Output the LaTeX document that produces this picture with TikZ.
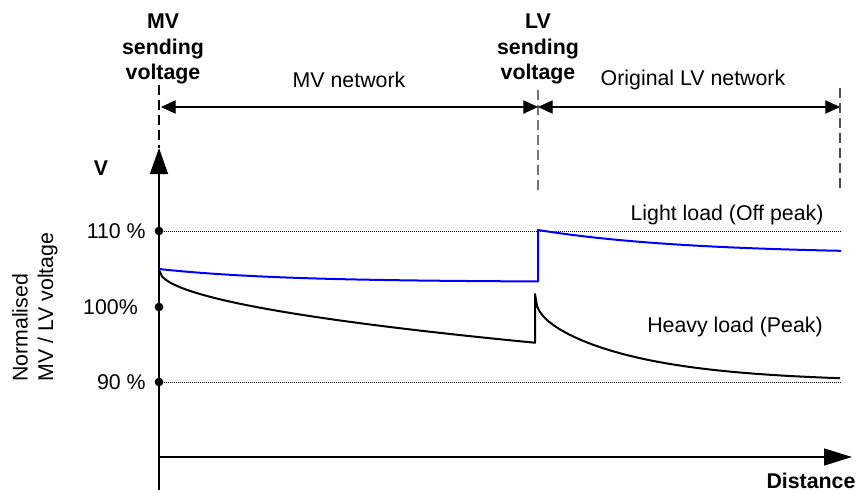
\documentclass[tikz,border=0pt]{standalone}
\usepackage{fontspec}
\setmainfont{Liberation Sans}
\usetikzlibrary{arrows.meta}
\begin{document}
\begin{tikzpicture}[x=0.75pt,y=-0.75pt,
  font=\fontsize{16}{19}\selectfont,
  axis/.style={line width=1.1pt},
  span/.style={line width=0.8pt,
    {Triangle[length=11pt,width=10pt]}-{Triangle[length=11pt,width=10pt]}},
  marker/.style={line width=1.1pt, dash pattern=on 7.5pt off 3.75pt},
  gridline/.style={line width=0.5pt, densely dotted},
  tickdot/.style={circle, fill, inner sep=0pt, minimum size=6.5pt},
  heading/.style={font=\fontsize{16}{19}\selectfont\bfseries, align=center, inner sep=0pt},
  lbl/.style={inner sep=0pt},
  curve/.style={line width=1.5pt, line join=round}
]
\useasboundingbox (0,0) rectangle (864,493);

% axes
\coordinate (ybot) at (159,490);
\coordinate (ytop) at (159,148);
\coordinate (xstart) at (159,457);
\coordinate (xend) at (852,457);
\draw[axis, -{Triangle[length=19.5pt,width=13.5pt]}] (ybot) -- (ytop);
\draw[axis, -{Triangle[length=21pt,width=12.75pt]}] (xstart) -- (xend);

% section markers
\coordinate (mvtop) at (159,85);
\coordinate (lvtop) at (538,90);
\coordinate (lvbot) at (538,193);
\coordinate (endtop) at (840,88);
\coordinate (endbot) at (840,190);
\draw[marker] (mvtop) -- (ytop);
\draw[marker, black!55] (lvtop) -- (lvbot);
\draw[marker, black!70] (endtop) -- (endbot);

% network spans
\coordinate (aL) at (161,107);
\coordinate (aM) at (538,107);
\coordinate (aR) at (840,107);
\draw[span] (aL) -- (aM);
\draw[span] (aM) -- (aR);

% headings
\node[heading] (mvlab) at (163,49) {MV\\sending\\voltage};
\node[heading] (lvlab) at (538,49) {LV\\sending\\voltage};
\node[lbl] (mvnet) at (349,80) {MV network};
\node[lbl] (lvnet) at (693,80) {Original LV network};

% voltage scale
\node[heading] (vlab) at (101,168) {V};
\node[tickdot] (t110) at (159,231) {};
\node[tickdot] (t100) at (159,307) {};
\node[tickdot] (t90) at (159,382) {};
\coordinate (g110) at (840,231);
\coordinate (g90) at (840,382);
\draw[gridline] (t110) -- (g110);
\draw[gridline] (t90) -- (g90);
\node[lbl, anchor=east] (l110) at (146,231) {110 \%};
\node[lbl, anchor=east] (l100) at (138,307) {100\%};
\node[lbl, anchor=east] (l90) at (146,382) {90 \%};
\node[lbl, rotate=90, align=left, anchor=north west] (ylab) at (12,382)
  {Normalised\\MV / LV voltage};

% voltage profiles: light load (blue) and heavy load (black)
\draw[curve, blue]
  plot[domain=0:379, samples=80] ({159+\x},{269+13*(1-exp(-\x/120))})
  -- (538,230)
  -- plot[domain=0:303, samples=80] ({538+\x},{230+24*(1-exp(-\x/150))});
\draw[curve]
  plot[domain=0:376, samples=120] ({159+\x},{270+3.75*sqrt(\x)})
  -- (535,294)
  -- plot[domain=0:305, samples=150]
     ({535+\x},{294+28*(1-exp(-sqrt(\x/8)))+60*(1-exp(-\x/110))});

\node[lbl] (light) at (727,215) {Light load (Off peak)};
\node[lbl] (heavy) at (735,327) {Heavy load (Peak)};
\node[heading] (dist) at (811,481) {Distance};
\end{tikzpicture}
\end{document}
